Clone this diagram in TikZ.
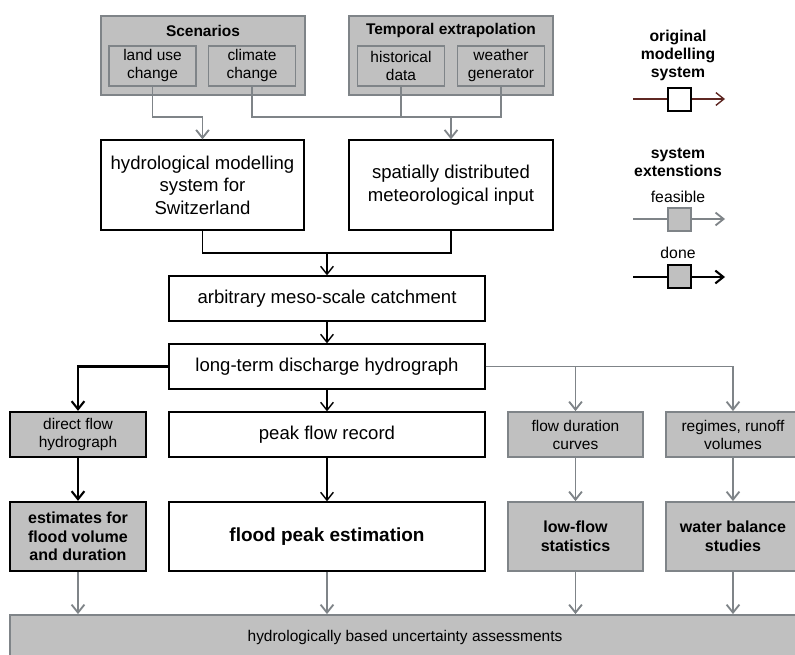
\documentclass[tikz,border=0pt]{standalone}
\usepackage{fontspec}
\setmainfont{Liberation Sans}
\usetikzlibrary{arrows.meta,positioning,calc}
\definecolor{FillGray}{RGB}{192,192,192}
\definecolor{LineGray}{RGB}{127,132,136}
\definecolor{OrigLine}{RGB}{95,40,35}
\tikzset{
  origbox/.style={draw=black,fill=white,line width=0.9pt,align=center,inner sep=0pt,font=\fontsize{13.2}{16}\selectfont},
  feasbox/.style={draw=LineGray,fill=FillGray,line width=1.3pt,align=center,inner sep=0pt,font=\fontsize{11}{12.8}\selectfont},
  donebox/.style={draw=black,fill=FillGray,line width=1.6pt,align=center,inner sep=0pt,font=\fontsize{11}{12.8}\selectfont},
  groupbox/.style={feasbox,minimum width=5.1cm,minimum height=1.975cm},
  subbox/.style={feasbox,minimum width=2.175cm,minimum height=1cm},
  grouptitle/.style={font=\fontsize{11}{12.8}\selectfont\bfseries},
  keytext/.style={align=center,font=\fontsize{11.2}{12.8}\selectfont},
  keybox/.style={minimum width=0.575cm,minimum height=0.575cm,inner sep=0pt},
  origline/.style={draw=black,line width=1pt},
  origarrow/.style={origline,-{Straight Barb[length=2mm,width=3.2mm]}},
  feasline/.style={draw=LineGray,line width=1.3pt},
  feasarrow/.style={feasline,-{Straight Barb[length=2mm,width=3.2mm]}},
  donearrow/.style={draw=black,line width=1.5pt,-{Straight Barb[length=2mm,width=3.2mm]}}
}

\begin{document}
\begin{tikzpicture}[x=0.025cm,y=-0.025cm]
\useasboundingbox (0,0) rectangle (795,655);
\clip (0,0) rectangle (795,655);

% joints of the connectors
\coordinate (scenjoin) at (202.5,117);
\coordinate (tempjoin) at (451,117);
\coordinate (inputjoin) at (327,253);

% input groups
\node[groupbox] (scen) at (203,55.5) {};
\node[groupbox] (temp) at (451,55.5) {};
\node[grouptitle] (scentitle) at (203,31) {Scenarios};
\node[grouptitle] (temptitle) at (451,31) {Temporal extrapolation};
\node[subbox] (land) at (152.5,66) {land use\\change};
\node[subbox] (clim) at (252,66) {climate\\change};
\node[subbox] (hist) at (401,66) {historical\\data};
\node[subbox] (weather) at (501,66) {weather\\generator};

% main chain
\node[origbox,minimum width=5.075cm,minimum height=2.25cm] (hydro) at (202.5,185) {hydrological modelling\\system for\\Switzerland};
\node[origbox,minimum width=5.1cm,minimum height=2.25cm] (spatial) at (451,185) {spatially distributed\\meteorological input};
\node[origbox,minimum width=7.9cm,minimum height=1.125cm] (catch) at (327,298.5) {arbitrary meso-scale catchment};
\node[origbox,minimum width=7.9cm,minimum height=1.125cm] (longterm) at (327,366.5) {long-term discharge hydrograph};

% products
\node[donebox,minimum width=3.4cm,minimum height=1.125cm] (direct) at (78,434.5) {direct flow\\hydrograph};
\node[origbox,minimum width=7.9cm,minimum height=1.125cm] (peak) at (327,434.5) {peak flow record};
\node[feasbox,minimum width=3.375cm,minimum height=1.125cm] (flowdur) at (575.5,434.5) {flow duration\\curves};
\node[feasbox,minimum width=3.35cm,minimum height=1.125cm] (regimes) at (733,434.5) {regimes, runoff\\volumes};

\node[donebox,minimum width=3.4cm,minimum height=1.725cm,font=\fontsize{11.4}{13.2}\selectfont\bfseries] (volume) at (78,536.5) {estimates for\\flood volume\\and duration};
\node[origbox,minimum width=7.9cm,minimum height=1.725cm,font=\fontsize{13.5}{16}\selectfont\bfseries] (flood) at (327,536.5) {flood peak estimation};
\node[feasbox,minimum width=3.375cm,minimum height=1.725cm,font=\fontsize{11.4}{13.2}\selectfont\bfseries] (lowflow) at (575.5,536.5) {low-flow\\statistics};
\node[feasbox,minimum width=3.35cm,minimum height=1.725cm,font=\fontsize{11.4}{13.2}\selectfont\bfseries] (balance) at (733,536.5) {water balance\\studies};

\node[feasbox,minimum width=19.75cm,minimum height=1.125cm] (uncert) at (405,637.5) {hydrologically based uncertainty assessments};

% connectors
\draw[feasline] (land.south) |- (scenjoin);
\draw[feasarrow] (scenjoin) -- (hydro.north);
\draw[feasline] (clim.south) |- (tempjoin) -| (weather.south);
\draw[feasline] (hist.south) -- (hist.south |- tempjoin);
\draw[feasarrow] (tempjoin) -- (spatial.north);

\draw[origline] (hydro.south) |- (inputjoin) -| (spatial.south);
\draw[origarrow] (inputjoin) -- (catch.north);
\draw[origarrow] (catch) -- (longterm);

\draw[donearrow] (longterm.west) -| (direct.north);
\draw[origarrow] (longterm) -- (peak);
\draw[feasarrow] (longterm.east) -| (flowdur.north);
\draw[feasarrow] (longterm.east) -| (regimes.north);

\draw[donearrow] (direct) -- (volume);
\draw[origarrow] (peak) -- (flood);
\draw[feasarrow] (flowdur) -- (lowflow);
\draw[feasarrow] (regimes) -- (balance);

\draw[feasarrow] (volume.south) -- (volume.south |- uncert.north);
\draw[feasarrow] (flood.south) -- (flood.south |- uncert.north);
\draw[feasarrow] (lowflow.south) -- (lowflow.south |- uncert.north);
\draw[feasarrow] (balance.south) -- (balance.south |- uncert.north);

% legend
\node[keytext,font=\fontsize{11.2}{12.8}\selectfont\bfseries] (origtitle) at (678,55) {original\\modelling\\system};
\coordinate (origstart) at (633,99);
\coordinate (origend) at (725,99);
\draw[draw=OrigLine,line width=1pt,-{Straight Barb[length=2mm,width=3.2mm]}] (origstart) -- (origend);
\node[keybox,draw=black,fill=white,line width=0.8pt] (origkey) at (679.5,99.5) {};

\node[keytext,font=\fontsize{11.2}{12.8}\selectfont\bfseries] (exttitle) at (678,162.5) {system\\extenstions};
\node[keytext] (feastext) at (678,197) {feasible};
\coordinate (feasstart) at (633,219);
\coordinate (feasend) at (725,219);
\draw[feasarrow] (feasstart) -- (feasend);
\node[keybox,draw=LineGray,fill=FillGray,line width=1.3pt] (feaskey) at (679.5,219.5) {};

\node[keytext] (donetext) at (678,253) {done};
\coordinate (donestart) at (633,277);
\coordinate (doneend) at (725,277);
\draw[donearrow] (donestart) -- (doneend);
\node[keybox,draw=black,fill=FillGray,line width=1.5pt] (donekey) at (679.5,276.5) {};
\end{tikzpicture}
\end{document}
